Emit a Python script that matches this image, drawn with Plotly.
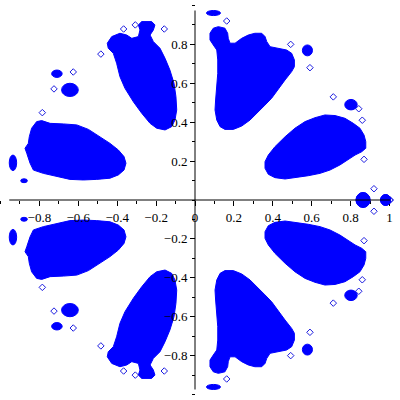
import plotly.graph_objects as go

# ---- data (upper half; the picture is mirrored about the x axis) ----
# big blobs, outlines
blob_a_x = [-0.451, -0.428, -0.386, -0.351, -0.325, -0.291, -0.283, -0.291, -0.274, -0.223,
            -0.206, -0.214, -0.231, -0.214, -0.180, -0.154, -0.129, -0.108, -0.098, -0.094,
            -0.103, -0.120, -0.154, -0.197, -0.231, -0.274, -0.317, -0.360, -0.386, -0.403,
            -0.420, -0.446]
blob_a_y = [0.806, 0.840, 0.857, 0.848, 0.831, 0.840, 0.874, 0.900, 0.917, 0.917,
            0.900, 0.874, 0.848, 0.814, 0.780, 0.728, 0.668, 0.600, 0.531, 0.463,
            0.411, 0.377, 0.360, 0.369, 0.394, 0.446, 0.505, 0.574, 0.634, 0.703,
            0.754, 0.780]

blob_b_x = [0.077, 0.094, 0.120, 0.154, 0.168, 0.171, 0.180, 0.206, 0.240, 0.274,
            0.308, 0.343, 0.360, 0.369, 0.386, 0.428, 0.471, 0.497, 0.511, 0.511,
            0.497, 0.463, 0.428, 0.394, 0.360, 0.325, 0.283, 0.240, 0.197, 0.154,
            0.129, 0.112, 0.103, 0.106, 0.112, 0.117, 0.117, 0.112, 0.094, 0.077]
blob_b_y = [0.857, 0.883, 0.891, 0.883, 0.857, 0.831, 0.806, 0.806, 0.831, 0.848,
            0.857, 0.857, 0.840, 0.814, 0.788, 0.780, 0.771, 0.754, 0.720, 0.685,
            0.660, 0.617, 0.566, 0.523, 0.488, 0.454, 0.411, 0.380, 0.363, 0.363,
            0.377, 0.411, 0.463, 0.514, 0.583, 0.651, 0.720, 0.771, 0.797, 0.823]

blob_c_x = [0.360, 0.377, 0.411, 0.463, 0.514, 0.566, 0.617, 0.668, 0.720, 0.771,
            0.814, 0.848, 0.869, 0.878, 0.878, 0.857, 0.823, 0.788, 0.745, 0.694,
            0.643, 0.583, 0.523, 0.463, 0.411, 0.377, 0.360]
blob_c_y = [0.197, 0.231, 0.274, 0.325, 0.369, 0.403, 0.423, 0.437, 0.434, 0.420,
            0.394, 0.369, 0.334, 0.300, 0.266, 0.248, 0.231, 0.206, 0.180, 0.154,
            0.137, 0.125, 0.115, 0.108, 0.115, 0.132, 0.163]

blob_d_x = [-0.840, -0.814, -0.788, -0.745, -0.677, -0.608, -0.548, -0.488, -0.437, -0.394,
            -0.365, -0.355, -0.365, -0.394, -0.437, -0.506, -0.574, -0.643, -0.711, -0.780,
            -0.831, -0.848, -0.865, -0.874, -0.857, -0.852]
blob_d_y = [0.369, 0.403, 0.408, 0.394, 0.391, 0.386, 0.363, 0.325, 0.291, 0.257,
            0.223, 0.189, 0.154, 0.129, 0.112, 0.106, 0.103, 0.106, 0.120, 0.137,
            0.154, 0.189, 0.240, 0.266, 0.291, 0.325]

blobs_x = [blob_a_x, blob_b_x, blob_c_x, blob_d_x]
blobs_y = [blob_a_y, blob_b_y, blob_c_y, blob_d_y]

# small solid clusters: centre and half-extent
clu_x = [0.095, 0.578, 0.802, 0.864, 0.980, -0.710, -0.643, -0.936, -0.879]
clu_y = [0.961, 0.769, 0.490, 0.0, 0.0, 0.649, 0.566, 0.191, 0.099]
clu_rx = [0.036, 0.026, 0.032, 0.036, 0.026, 0.027, 0.043, 0.019, 0.017]
clu_ry = [0.013, 0.028, 0.027, 0.038, 0.028, 0.019, 0.034, 0.040, 0.010]

# isolated points
pt_x = [-0.484, -0.367, -0.307, -0.158, 0.163, 0.492, 0.591, 0.711, 0.842, 0.860,
        0.869, 0.920, 1.003, -0.626, -0.725, -0.785]
pt_y = [0.750, 0.879, 0.900, 0.879, 0.920, 0.800, 0.680, 0.530, 0.469, 0.410,
        0.209, 0.058, 0.0, 0.658, 0.571, 0.449]

major_ticks_x = [-0.8, -0.6, -0.4, -0.2, 0, 0.2, 0.4, 0.6, 0.8, 1]
major_ticks_y = [-0.8, -0.6, -0.4, -0.2, 0.2, 0.4, 0.6, 0.8]

BLUE = "#0000ff"
XR = [-1.0026, 1.054]
YR = [-1.028, 1.028]
SERIF = "Liberation Serif"


def mirror(v):
    return [-a for a in v]


fig = go.Figure()

for bx, by in zip(blobs_x, blobs_y):
    for yy in (by, mirror(by)):
        fig.add_trace(go.Scatter(x=bx + [bx[0]], y=yy + [yy[0]], mode="lines",
                                 fill="toself", fillcolor=BLUE,
                                 line=dict(color=BLUE, width=1), hoverinfo="skip"))

for cx, cy, rx, ry in zip(clu_x, clu_y, clu_rx, clu_ry):
    for yy in (cy, -cy):
        fig.add_shape(type="circle", xref="x", yref="y",
                      x0=cx - rx, x1=cx + rx, y0=yy - ry, y1=yy + ry,
                      fillcolor=BLUE, line=dict(color=BLUE, width=1))

fig.add_trace(go.Scatter(x=pt_x + pt_x, y=pt_y + mirror(pt_y), mode="markers",
                         marker=dict(symbol="diamond-open", size=5, color="#1c1ce0",
                                     line=dict(width=1))))

# axes lines spanning the data, like Maple does
all_x = sum(blobs_x, []) + pt_x + [c - r for c, r in zip(clu_x, clu_rx)]
all_y = sum(blobs_y, []) + pt_y + [c + r for c, r in zip(clu_y, clu_ry)]
xmin, xmax = min(all_x), max(all_x)
ymax = max(all_y)
fig.add_shape(type="line", xref="x", yref="y", x0=xmin, x1=xmax, y0=0, y1=0,
              line=dict(color="black", width=1))
fig.add_shape(type="line", xref="x", yref="y", x0=0, x1=0, y0=-ymax, y1=ymax,
              line=dict(color="black", width=1))

tickfont = dict(family=SERIF, size=13, color="black")
minor = dict(tickmode="linear", tick0=0, dtick=0.1, ticks="outside", ticklen=3,
             tickcolor="black")

fig.update_layout(
    width=400, height=400,
    margin=dict(l=0, r=0, t=0, b=0, autoexpand=False),
    font=dict(family=SERIF, size=13, color="black"),
    plot_bgcolor="white", paper_bgcolor="white",
    showlegend=False,
    xaxis=dict(range=XR, anchor="free", position=(0 - YR[0]) / (YR[1] - YR[0]),
               tickmode="array", tickvals=major_ticks_x, ticks="outside", ticklen=5,
               tickcolor="black", showline=False, showgrid=False, zeroline=False,
               tickfont=tickfont, minor=minor, fixedrange=True, automargin=False),
    yaxis=dict(range=YR, anchor="free", position=(0 - XR[0]) / (XR[1] - XR[0]),
               tickmode="array", tickvals=major_ticks_y, ticks="outside", ticklen=5,
               tickcolor="black", showline=False, showgrid=False, zeroline=False,
               tickfont=tickfont, minor=minor, fixedrange=True, automargin=False),
)

# page has a default body margin, drop it so the chart sits at the top-left corner
fig.write_html("out.html", post_script="document.body.style.margin='0';",
               config={"displayModeBar": False})
